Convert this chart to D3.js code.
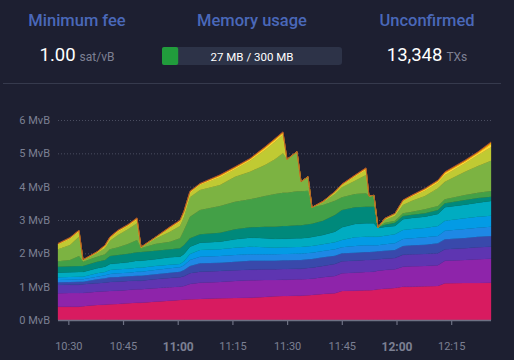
<!DOCTYPE html>
<html><head><meta charset="utf-8">
<script src="https://cdn.jsdelivr.net/npm/d3@7"></script>
<style>
html,body{margin:0;padding:0;background:#1d1f31;}
svg{display:block;font-family:Roboto,"Noto Sans",sans-serif;}
</style></head><body>
<svg id="c" width="514" height="360"></svg>
<script>
// ---- header stats ----
const statTitles = ["Minimum fee", "Memory usage", "Unconfirmed"];
const minFee = "1.00", minFeeUnit = "sat/vB";
const memUsed = 27, memTotal = 300;
const unconfirmed = "13,348", unconfirmedUnit = "TXs";

// ---- chart data ----
const times = ["10:27:10","10:30:28","10:32:56","10:34:02","10:37:52","10:40:04","10:41:26","10:43:38","10:46:22","10:48:50",
"10:49:56","10:53:46","10:57:53","11:00:38","11:01:44","11:03:22","11:06:07","11:11:36","11:15:43","11:19:49",
"11:23:56","11:26:41","11:28:52","11:29:58","11:32:43","11:33:49","11:35:44","11:36:49","11:39:50","11:43:08",
"11:45:03","11:48:37","11:51:38","11:52:27","11:53:49","11:54:55","11:56:50","11:59:35","12:01:47","12:04:15",
"12:07:49","12:11:22","12:13:17","12:18:47","12:22:20","12:25:55"];

const feeLevels = ["0-1","1-2","2-3","3-4","4-5","5-6","6-8","8-10","10-12","12-15","15-20","20-30","30-40","40-50","50-60","60-70"];
const feeColors = ["#D81B60","#8E24AA","#5E35B1","#3949AB","#1E88E5","#039BE5","#00ACC1","#00897B","#43A047","#7CB342","#C0CA33","#FDD835","#FFB300","#FB8C00","#F4511E","#6D4C41"];

// vsize per fee band, MvB
const fee0_1 = [.40,.40,.40,.41,.45,.46,.47,.48,.50,.52, .52,.55,.58,.60,.61,.62,.63,.65,.66,.67, .69,.71,.72,.72,.73,.73,.74,.75,.78,.80, .87,.88,.89,.89,.90,.92,.94,.96,1.00,1.00, 1.01,1.02,1.10,1.11,1.11,1.12];
const fee1_2 = [.40,.41,.41,.40,.40,.40,.40,.40,.40,.40, .40,.40,.40,.40,.41,.46,.49,.49,.51,.52, .51,.49,.49,.49,.49,.49,.49,.49,.50,.52, .53,.54,.55,.55,.55,.56,.56,.56,.60,.61, .61,.62,.68,.69,.71,.72];
const fee2_3 = [.25,.25,.25,.26,.25,.26,.27,.27,.27,.26, .26,.27,.28,.28,.29,.32,.33,.33,.32,.32, .32,.32,.32,.32,.32,.32,.33,.33,.34,.36, .36,.36,.36,.36,.36,.34,.34,.34,.36,.36, .36,.36,.34,.35,.36,.36];
const fee3_4 = [.08,.08,.09,.08,.12,.13,.14,.14,.14,.15, .15,.15,.16,.17,.19,.22,.25,.25,.26,.27, .26,.26,.26,.26,.26,.26,.26,.26,.26,.25, .24,.24,.24,.24,.24,.24,.24,.24,.26,.27, .28,.30,.30,.31,.32,.32];
const fee4_5 = [.07,.07,.07,.07,.08,.09,.10,.11,.11,.12, .12,.13,.13,.13,.14,.18,.20,.20,.20,.19, .19,.19,.19,.19,.19,.19,.19,.19,.19,.19, .18,.20,.20,.20,.19,.18,.19,.20,.21,.21, .22,.22,.26,.27,.27,.28];
const fee5_6 = [.08,.08,.08,.08,.10,.10,.12,.12,.12,.12, .12,.12,.11,.10,.12,.18,.20,.20,.22,.23, .21,.20,.20,.20,.20,.20,.20,.20,.20,.21, .22,.26,.26,.26,.26,.26,.26,.27,.27,.28, .28,.30,.30,.32,.33,.33];
const fee6_8 = [.14,.14,.14,.14,.15,.16,.18,.18,.19,.21, .21,.20,.22,.22,.22,.22,.22,.23,.25,.27, .27,.26,.26,.26,.26,.26,.26,.27,.28,.32, .38,.40,.40,.40,.40,.26,.26,.25,.32,.33, .34,.36,.40,.41,.42,.44];
const fee8_10 = [.18,.18,.18,.18,.20,.20,.24,.25,.26,.25, .26,.26,.24,.25,.27,.25,.25,.27,.30,.31, .35,.37,.38,.38,.39,.39,.40,.40,.43,.50, .52,.50,.50,.50,.50,.02,.07,.10,.10,.10, .10,.12,.12,.14,.14,.13];
const fee10_12 = [.16,.19,.30,.13,.15,.17,.20,.23,.29,.37, .11,.20,.23,.30,.45,.65,.73,.80,.83,.84, .92,.98,1.00,1.00,1.02,1.02,1.01,.49,.47,.43, .38,.40,.40,.32,.34,0,.06,.06,.08,.09, .12,.12,.12,.15,.16,.17];
const fee12_15 = [.36,.45,.58,.04,.10,.18,.26,.37,.44,.50, .03,.15,.30,.37,.40,.58,.60,.63,.75,.83, .93,1.04,1.18,1.00,1.19,.29,.42,0,.08,.20, .30,.40,.55,0,0,0,.08,.14,.25,.33, .40,.53,.53,.70,.80,.91];
const fee15_20 = [.14,.18,.15,.01,.03,.05,.07,.09,.09,.10, 0,.03,.10,.12,.12,.12,.15,.23,.22,.33, .45,.53,.56,0,0,0,0,0,.02,.05, .07,.12,.15,0,0,0,.04,.06,.11,.12, .16,.17,.20,.25,.33,.40];
const fee20_30 = [.022,.028,.028,.005,.010,.028,.028,.034,.034,.040, .005,.010,.028,.034,.034,.040,.028,.046,.046,.040, .058,.058,.052,0,0,0,0,0,.005,.016, .016,.028,.040,0,0,0,.005,.010,.022,.028, .040,.046,.058,.058,.058,.100];
const fee30_40 = [.008,.010,.010,.002,.004,.010,.010,.012,.012,.014, .002,.004,.010,.012,.012,.014,.010,.016,.016,.014, .020,.020,.018,0,0,0,0,0,.002,.006, .006,.010,.014,0,0,0,.002,.004,.008,.010, .014,.016,.020,.020,.020,.034];
const fee40_50 = [.004,.005,.005,.001,.002,.005,.005,.006,.006,.007, .001,.002,.005,.006,.006,.007,.005,.008,.008,.007, .010,.010,.009,0,0,0,0,0,.001,.004, .004,.005,.007,0,0,0,.001,.002,.004,.005, .007,.008,.010,.010,.010,.017];
const fee50_60 = [.003,.004,.004,.001,.002,.004,.004,.004,.004,.005, .001,.002,.004,.004,.004,.005,.004,.005,.005,.005, .006,.006,.006,0,0,0,0,0,.001,.002, .002,.004,.005,0,0,0,.001,.002,.003,.004, .005,.005,.006,.006,.006,.010];
const fee60_70 = [.003,.003,.003,.001,.002,.003,.003,.004,.004,.004, .001,.002,.003,.004,.004,.004,.003,.005,.005,.004, .006,.006,.005,0,0,0,0,0,.001,.002, .002,.003,.004,0,0,0,.001,.002,.003,.003, .004,.005,.006,.006,.006,.009];

const yTicks = [0,1,2,3,4,5,6];

// ---- build ----
const series = [fee0_1,fee1_2,fee2_3,fee3_4,fee4_5,fee5_6,fee6_8,fee8_10,fee10_12,fee12_15,fee15_20,fee20_30,fee30_40,fee40_50,fee50_60,fee60_70];
const parse = d3.timeParse("%H:%M:%S");
const rows = times.map((t,i)=>{
  const r = {time: parse(t)};
  feeLevels.forEach((k,j)=>{ r[k] = series[j][i]; });
  return r;
});

const svg = d3.select("#c");
const W = 514;

// header
const cols = [77, 252, 427];
svg.selectAll("text.title").data(statTitles).enter().append("text")
  .attr("class","title").attr("x",(d,i)=>cols[i]).attr("y",26)
  .attr("text-anchor","middle").attr("font-size",16.5).attr("font-weight",500)
  .attr("fill","#4a68b9").text(d=>d);

const t1 = svg.append("text").attr("x",cols[0]).attr("y",61).attr("text-anchor","middle");
t1.append("tspan").attr("font-size",18.5).attr("fill","#ffffff").text(minFee);
t1.append("tspan").attr("font-size",12).attr("fill","#7e8194").attr("dx",4).text(minFeeUnit);

const t3 = svg.append("text").attr("x",cols[2]).attr("y",61).attr("text-anchor","middle");
t3.append("tspan").attr("font-size",18.5).attr("fill","#ffffff").text(unconfirmed);
t3.append("tspan").attr("font-size",12).attr("fill","#7e8194").attr("dx",4).text(unconfirmedUnit);

const barX = 162, barW = 180, barY = 47, barH = 18;
const memScale = d3.scaleLinear().domain([0,memTotal]).range([0,barW]);
svg.append("rect").attr("x",barX).attr("y",barY).attr("width",barW).attr("height",barH).attr("rx",3).attr("fill","#2d3348");
svg.append("rect").attr("x",barX).attr("y",barY).attr("width",memScale(memUsed)).attr("height",barH).attr("rx",2).attr("fill","#219c3c");
svg.append("text").attr("x",barX+barW/2).attr("y",60.5).attr("text-anchor","middle")
  .attr("font-size",11.5).attr("fill","#ffffff").text(`${memUsed} MB / ${memTotal} MB`);

svg.append("line").attr("x1",3).attr("x2",501).attr("y1",83.5).attr("y2",83.5).attr("stroke","#363a4d").attr("stroke-width",1);

// chart
const x = d3.scaleTime().domain(d3.extent(rows,d=>d.time)).range([58,491]);
const y = d3.scaleLinear().domain([0,6]).range([320,120]);

// grid
svg.append("g").selectAll("line").data(yTicks.filter(v=>v>0)).enter().append("line")
  .attr("x1",58).attr("x2",491).attr("y1",d=>y(d)+0.5).attr("y2",d=>y(d)+0.5)
  .attr("stroke","#4a4d60").attr("stroke-dasharray","1,2");

// y labels
svg.append("g").selectAll("text").data(yTicks).enter().append("text")
  .attr("x",50).attr("y",d=>y(d)).attr("dy","0.35em").attr("text-anchor","end")
  .attr("font-size",11).attr("fill","#7c8093").text(d=>`${d} MvB`);

const stack = d3.stack().keys(feeLevels);
const layers = stack(rows);
const area = d3.area().x(d=>x(d.data.time)).y0(d=>y(d[0])).y1(d=>y(d[1]));
svg.append("g").selectAll("path").data(layers).enter().append("path")
  .attr("d",area).attr("fill",(d,i)=>feeColors[i])
  .attr("stroke",(d,i)=>feeColors[i]).attr("stroke-width",0.3);

// x axis
const xAxis = d3.axisBottom(x).ticks(d3.timeMinute.every(15)).tickSize(5).tickFormat(d3.timeFormat("%H:%M"));
const gx = svg.append("g").attr("transform","translate(0,320)").call(xAxis);
gx.select(".domain").attr("stroke","#6e7184").attr("stroke-width",1.5).attr("d","M58,0.5H491");
gx.selectAll(".tick line").attr("stroke","#6e7184").attr("stroke-width",1.2);
gx.selectAll(".tick text").attr("font-size",11).attr("fill","#7c8093").attr("y",22)
  .attr("font-family","Roboto,'Noto Sans',sans-serif")
  .attr("font-weight",d=>d.getMinutes()===0?700:400)
  .attr("font-size",d=>d.getMinutes()===0?12:11);
</script>
</body></html>
